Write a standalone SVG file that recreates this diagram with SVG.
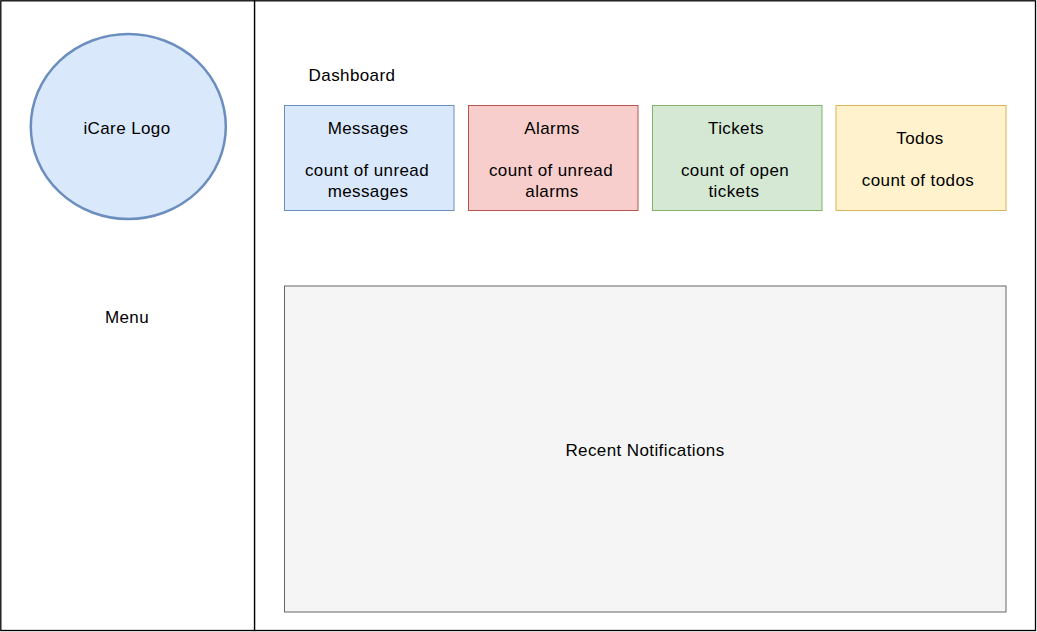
<svg xmlns="http://www.w3.org/2000/svg" width="1037" height="632" viewBox="0 0 1037 632">
<style>
text{font-family:"Liberation Sans",Arial,Helvetica,sans-serif;font-size:17px;letter-spacing:0.4px;fill:#000;text-anchor:middle}
.frame{fill:#fff;stroke:#000;stroke-width:1.3}
.blue{fill:#dae8fc;stroke:#6c8ebf}
.red{fill:#f8cecc;stroke:#b85450}
.green{fill:#d5e8d4;stroke:#82b366}
.yellow{fill:#fff2cc;stroke:#d6b656}
.grey{fill:#f5f5f5;stroke:#666666}
</style>
<g id="main-panel"><rect class="frame" x="254.5" y="0.8" width="781" height="629.7"/></g>
<g id="menu-panel"><rect class="frame" x="0.8" y="0.8" width="253.7" height="629.7"/><text x="127" y="323">Menu</text></g>
<g id="logo"><ellipse class="blue" stroke-width="2.5" cx="128.3" cy="126.5" rx="97.5" ry="92.5"/><text x="127" y="134">iCare Logo</text></g>
<g id="dashboard-label"><text x="352" y="81">Dashboard</text></g>
<g id="messages"><rect class="blue" x="284.5" y="105.5" width="169.5" height="105"/><text x="368" y="134">Messages</text><text x="367" y="176">count of unread</text><text x="368" y="197">messages</text></g>
<g id="alarms"><rect class="red" x="468.5" y="105.5" width="169.5" height="105"/><text x="552" y="134">Alarms</text><text x="551" y="176">count of unread</text><text x="552" y="197">alarms</text></g>
<g id="tickets"><rect class="green" x="652.5" y="105.5" width="169.5" height="105"/><text x="736" y="134">Tickets</text><text x="735" y="176">count of open</text><text x="734" y="197">tickets</text></g>
<g id="todos"><rect class="yellow" x="836" y="105.5" width="170" height="105"/><text x="920" y="144">Todos</text><text x="918" y="186">count of todos</text></g>
<g id="recent-notifications"><rect class="grey" x="284.5" y="286" width="721.5" height="326"/><text x="645" y="456">Recent Notifications</text></g>
<g id="connectors"></g>
</svg>
